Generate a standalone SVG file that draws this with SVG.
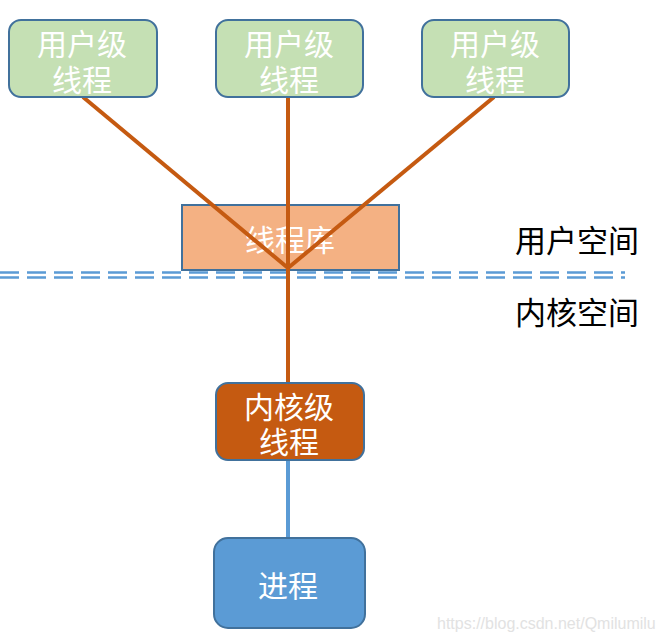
<svg xmlns="http://www.w3.org/2000/svg" width="661" height="642" viewBox="0 0 661 642">
<style>
.box{stroke:#41719c;stroke-width:2}
.ut{fill:#c5e0b4}
.t{font-family:"Noto Sans CJK SC","Liberation Sans",sans-serif;font-size:30px;fill:#ffffff;text-anchor:middle;dominant-baseline:central}
.lbl{font-family:"Noto Sans CJK SC","Liberation Sans",sans-serif;font-size:31px;fill:#000000}
.or{stroke:#c55a11;stroke-width:4;fill:none}
.bl{stroke:#5b9bd5;stroke-width:4;fill:none}
.dash{stroke:#5b9bd5;stroke-width:2.5;stroke-dasharray:19 8;fill:none}
</style>
<rect width="661" height="642" fill="#ffffff"/>
<g id="divider">
<line class="dash" x1="0" y1="272.5" x2="625" y2="272.5"/>
<line class="dash" x1="0" y1="277.5" x2="625" y2="277.5"/>
</g>
<g id="lib">
<rect class="box" x="182" y="205" width="217" height="65" fill="#f4b183"/>
<text class="t" x="290" y="238">线程库</text>
</g>
<g id="connectors">
<line class="or" x1="83" y1="97" x2="288" y2="268"/>
<line class="or" x1="288" y1="97" x2="288" y2="383"/>
<line class="or" x1="494" y1="97" x2="288" y2="268"/>
<line class="bl" x1="288" y1="460" x2="288" y2="538"/>
</g>
<g id="ut1">
<rect class="box ut" x="9" y="20" width="148" height="77" rx="12"/>
<text class="t"><tspan x="82" y="42">用户级</tspan><tspan x="82" y="78">线程</tspan></text>
</g>
<g id="ut2">
<rect class="box ut" x="216" y="20" width="147" height="77" rx="12"/>
<text class="t"><tspan x="289" y="42">用户级</tspan><tspan x="289" y="78">线程</tspan></text>
</g>
<g id="ut3">
<rect class="box ut" x="422" y="20" width="147" height="77" rx="12"/>
<text class="t"><tspan x="495" y="42">用户级</tspan><tspan x="495" y="78">线程</tspan></text>
</g>
<g id="kt">
<rect class="box" x="216" y="383" width="148" height="77" rx="12" fill="#c55a11"/>
<text class="t"><tspan x="289" y="405">内核级</tspan><tspan x="289" y="440">线程</tspan></text>
</g>
<g id="proc">
<rect class="box" x="214" y="538" width="151" height="90" rx="14" fill="#5b9bd5"/>
<text class="t" x="288" y="584">进程</text>
</g>
<g id="labels">
<text class="lbl" x="515" y="252">用户空间</text>
<text class="lbl" x="515" y="324">内核空间</text>
</g>
<text x="437" y="629" font-family="Liberation Sans, sans-serif" font-size="16" fill="#e2e2e2">https://blog.csdn.net/Qmilumilu</text>
</svg>
